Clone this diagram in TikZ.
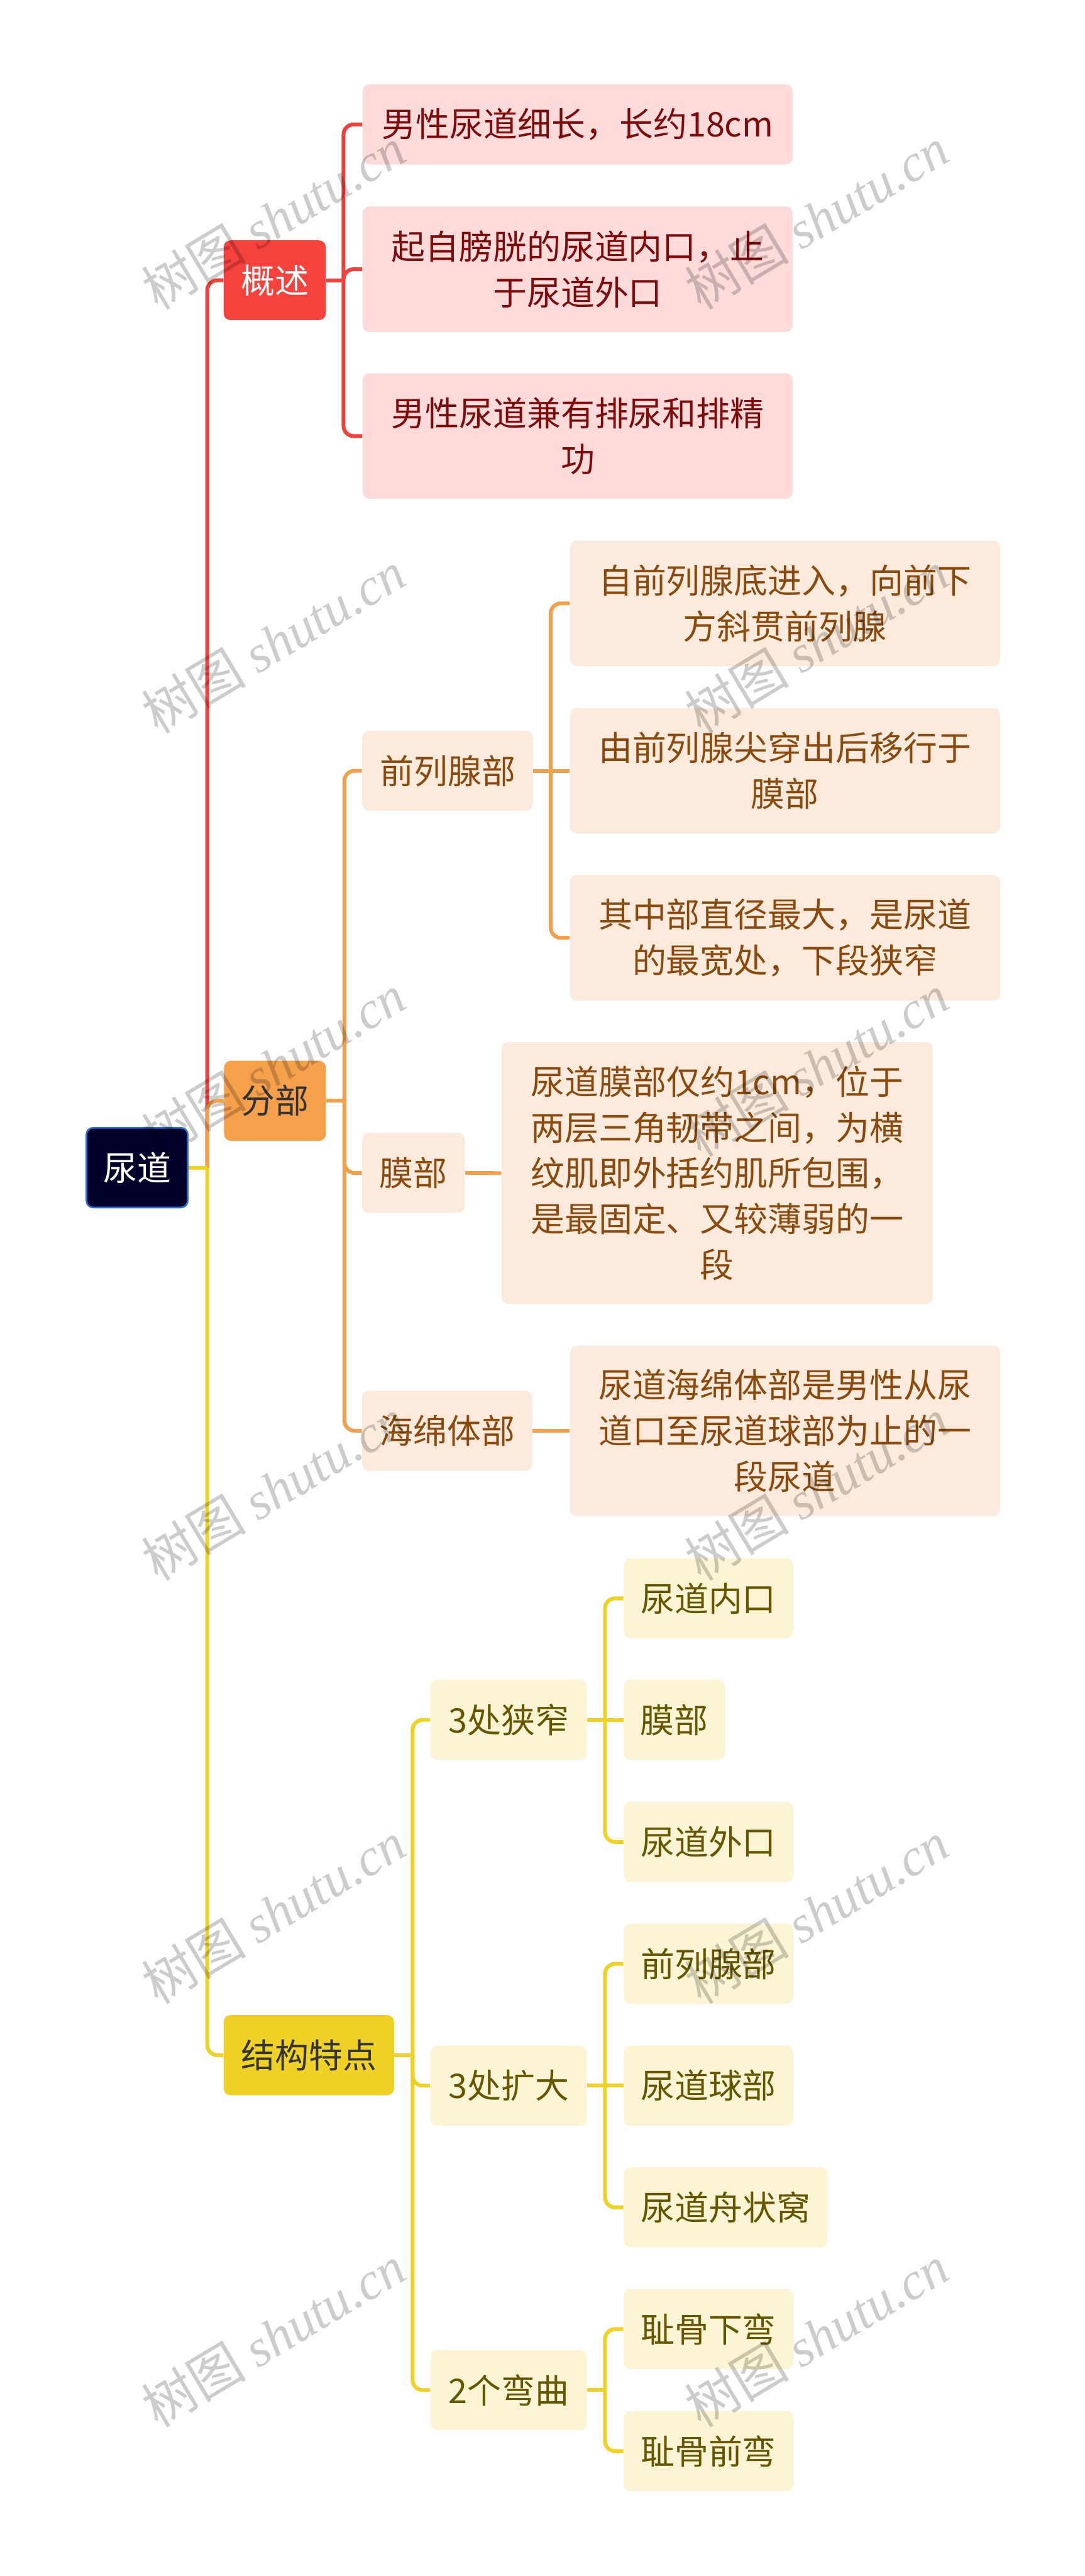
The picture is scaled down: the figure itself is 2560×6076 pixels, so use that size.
\documentclass[tikz,border=0pt]{standalone}
\usepackage{fontspec}
\setmainfont{Noto Sans CJK SC}
\newfontfamily\wmserif{Liberation Serif}
\definecolor{rootfill}{HTML}{00002B}
\definecolor{rootborder}{HTML}{2F6FD8}
\definecolor{redfill}{HTML}{F6423C}
\definecolor{redleaf}{HTML}{FDDBDB}
\definecolor{redtext}{HTML}{7E0A0A}
\definecolor{redline}{HTML}{F0413B}
\definecolor{orgfill}{HTML}{F5A14C}
\definecolor{orgleaf}{HTML}{FCEBDD}
\definecolor{orgtext}{HTML}{8A4A0D}
\definecolor{orgline}{HTML}{F3A04D}
\definecolor{ylwfill}{HTML}{F0D227}
\definecolor{ylwleaf}{HTML}{FCF5D5}
\definecolor{ylwtext}{HTML}{665600}
\definecolor{ylwline}{HTML}{F0D226}
\definecolor{darktext}{HTML}{333333}
\pgfdeclarelayer{bg}
\pgfsetlayers{bg,main}
\begin{document}
\begin{tikzpicture}[x=0.25pt,y=-0.25pt,
  box/.style={rounded corners=4pt, inner sep=0pt, align=center, anchor=west,
    font=\fontsize{20}{27}\selectfont},
  rootbox/.style={box, fill=rootfill, draw=rootborder, line width=1pt, text=white},
  redmain/.style={box, fill=redfill, text=white},
  redleafbox/.style={box, fill=redleaf, text=redtext},
  orgmain/.style={box, fill=orgfill, text=darktext},
  orgleafbox/.style={box, fill=orgleaf, text=orgtext},
  ylwmain/.style={box, fill=ylwfill, text=darktext},
  ylwleafbox/.style={box, fill=ylwleaf, text=ylwtext},
  conn/.style={line width=2.25pt, rounded corners=6pt},
  redc/.style={conn, draw=redline},
  orgc/.style={conn, draw=orgline},
  ylwc/.style={conn, draw=ylwline},
  wm/.style={rotate=31, text=black, opacity=0.2, inner sep=0pt,
    font=\fontsize{31}{31}\selectfont}
]
\useasboundingbox (0,0) rectangle (2560,6076);
\begin{pgfonlayer}{bg}
  \fill[white] (0,0) rectangle (2560,6076);
\end{pgfonlayer}

% root
\node[rootbox, minimum width=59.75pt, minimum height=47pt] (root) at (202,2754) {尿道};

% 概述
\node[redmain, minimum width=60.25pt, minimum height=47pt] (gs) at (527,661) {概述};
\node[redleafbox, minimum width=253.75pt, minimum height=47.25pt] (gs1) at (855,293.5) {男性尿道细长，长约18cm};
\node[redleafbox, minimum width=253.75pt, minimum height=74pt] (gs2) at (855,635) {起自膀胱的尿道内口，止\\于尿道外口};
\node[redleafbox, minimum width=253.75pt, minimum height=74pt] (gs3) at (855,1028.5) {男性尿道兼有排尿和排精\\功};

% 分部
\node[orgmain, minimum width=60pt, minimum height=47.25pt] (fb) at (528,2596.5) {分部};
\node[orgleafbox, minimum width=100.75pt, minimum height=47pt] (qlx) at (854,1818) {前列腺部};
\node[orgleafbox, minimum width=253.75pt, minimum height=74pt] (qlx1) at (1344,1423) {自前列腺底进入，向前下\\方斜贯前列腺};
\node[orgleafbox, minimum width=253.75pt, minimum height=74pt] (qlx2) at (1344,1818) {由前列腺尖穿出后移行于\\膜部};
\node[orgleafbox, minimum width=253.75pt, minimum height=74pt] (qlx3) at (1344,2212) {其中部直径最大，是尿道\\的最宽处，下段狭窄};
\node[orgleafbox, minimum width=60.5pt, minimum height=47.25pt] (mb) at (854,2766.5) {膜部};
\node[orgleafbox, minimum width=254.25pt, minimum height=154.5pt] (mb1) at (1183,2767) {尿道膜部仅约1cm，位于\\两层三角韧带之间，为横\\纹肌即外括约肌所包围，\\是最固定、又较薄弱的一\\段};
\node[orgleafbox, minimum width=100.25pt, minimum height=47.25pt] (hm) at (854,3374.5) {海绵体部};
\node[orgleafbox, minimum width=253.75pt, minimum height=100.5pt] (hm1) at (1344,3375) {尿道海绵体部是男性从尿\\道口至尿道球部为止的一\\段尿道};

% 结构特点
\node[ylwmain, minimum width=100.5pt, minimum height=47.25pt] (jg) at (527,4847.5) {结构特点};
\node[ylwleafbox, minimum width=92.25pt, minimum height=47.25pt] (xz) at (1015,4056.5) {3处狭窄};
\node[ylwleafbox, minimum width=92.25pt, minimum height=47.25pt] (kd) at (1015,4919.5) {3处扩大};
\node[ylwleafbox, minimum width=92.25pt, minimum height=47.25pt] (wq) at (1015,5637.5) {2个弯曲};
\node[ylwleafbox, minimum width=100pt, minimum height=47.25pt] (xz1) at (1471,3770) {尿道内口};
\node[ylwleafbox, minimum width=59.75pt, minimum height=47.25pt] (xz2) at (1471,4056.5) {膜部};
\node[ylwleafbox, minimum width=100pt, minimum height=47.25pt] (xz3) at (1471,4344.5) {尿道外口};
\node[ylwleafbox, minimum width=100pt, minimum height=47.25pt] (kd1) at (1471,4632) {前列腺部};
\node[ylwleafbox, minimum width=100pt, minimum height=47.25pt] (kd2) at (1471,4919.5) {尿道球部};
\node[ylwleafbox, minimum width=120.25pt, minimum height=47.25pt] (kd3) at (1471,5206.5) {尿道舟状窝};
\node[ylwleafbox, minimum width=100pt, minimum height=47.25pt] (wq1) at (1471,5493.5) {耻骨下弯};
\node[ylwleafbox, minimum width=100pt, minimum height=47.25pt] (wq2) at (1471,5781.5) {耻骨前弯};

% junction coordinates
\path (root.east) ++(44,0) coordinate (rj);
\path (gs.east) ++(41,0) coordinate (gsj);
\path (fb.east) ++(43,0) coordinate (fbj);
\path (qlx.east) ++(41,0) coordinate (qlxj);
\path (jg.east) ++(43,0) coordinate (jgj);
\path (xz.east) ++(42,0) coordinate (xzj);
\path (kd.east) ++(42,0) coordinate (kdj);
\path (wq.east) ++(42,0) coordinate (wqj);

\begin{pgfonlayer}{bg}
  % root branches
  \draw[redc] (gs.west) -| (rj);
  \draw[orgc] (fb.west) -| (rj);
  \draw[ylwc] (jg.west) -| (rj);
  \draw[ylwc] (root.east) -- (rj);
  % 概述
  \draw[redc] (gs1.west) -| (gsj);
  \draw[redc] (gs2.west) -| (gsj);
  \draw[redc] (gs3.west) -| (gsj);
  \draw[redc] (gs.east) -- (gsj);
  % 分部
  \draw[orgc] (qlx.west) -| (fbj);
  \draw[orgc] (mb.west) -| (fbj);
  \draw[orgc] (hm.west) -| (fbj);
  \draw[orgc] (fb.east) -- (fbj);
  \draw[orgc] (qlx1.west) -| (qlxj);
  \draw[orgc] (qlx3.west) -| (qlxj);
  \draw[orgc] (qlx.east) -- (qlx2.west);
  \draw[orgc] (mb.east) -- (mb1.west);
  \draw[orgc] (hm.east) -- (hm1.west);
  % 结构特点
  \draw[ylwc] (xz.west) -| (jgj);
  \draw[ylwc] (kd.west) -| (jgj);
  \draw[ylwc] (wq.west) -| (jgj);
  \draw[ylwc] (jg.east) -- (jgj);
  \draw[ylwc] (xz1.west) -| (xzj);
  \draw[ylwc] (xz3.west) -| (xzj);
  \draw[ylwc] (xz.east) -- (xz2.west);
  \draw[ylwc] (kd1.west) -| (kdj);
  \draw[ylwc] (kd3.west) -| (kdj);
  \draw[ylwc] (kd.east) -- (kd2.west);
  \draw[ylwc] (wq1.west) -| (wqj);
  \draw[ylwc] (wq2.west) -| (wqj);
  \draw[ylwc] (wq.east) -- (wqj);
\end{pgfonlayer}

% watermarks
\foreach \wy [count=\i] in {515,1514,2513,3512,4511,5510}{
  \node[wm] (wmL\i) at (645,\wy) {树图 {\wmserif\itshape shutu.cn}};
  \node[wm] (wmR\i) at (1927,\wy) {树图 {\wmserif\itshape shutu.cn}};
}
\end{tikzpicture}
\end{document}
